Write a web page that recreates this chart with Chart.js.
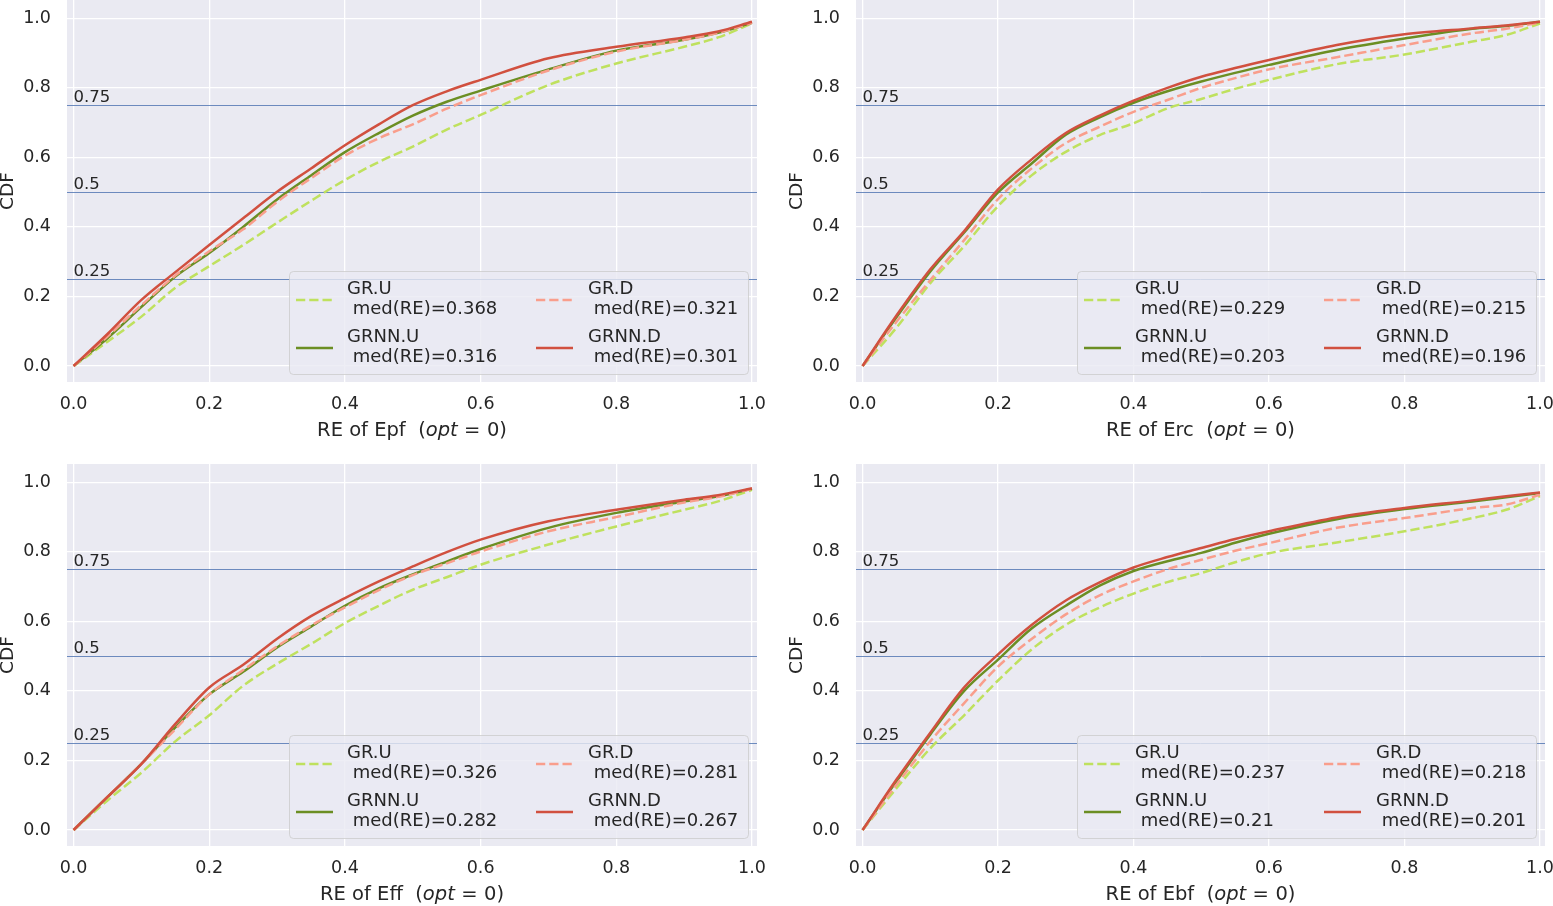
<!DOCTYPE html>
<html lang="en">
<head>
<meta charset="UTF-8">
<title>CDF of RE</title>
<script src="https://cdn.jsdelivr.net/npm/chart.js"></script>
<style>
  html, body { margin: 0; padding: 0; background: #fff; }
  body { width: 1553px; height: 906px; position: relative; overflow: hidden; }
  .panel { position: absolute; }
</style>
</head>
<body>
<div class="panel" style="left:0;top:0;width:776px;height:453px"><canvas id="epf"></canvas></div>
<div class="panel" style="left:776px;top:0;width:777px;height:453px"><canvas id="erc"></canvas></div>
<div class="panel" style="left:0;top:453px;width:776px;height:453px"><canvas id="eff"></canvas></div>
<div class="panel" style="left:776px;top:453px;width:777px;height:453px"><canvas id="ebf"></canvas></div>
<script>
const reValues = [0, 0.05, 0.1, 0.15, 0.2, 0.25, 0.3, 0.35, 0.4, 0.45, 0.5, 0.55, 0.6, 0.7, 0.8, 0.9, 0.95, 1.0];
const xTicks = [0, 0.2, 0.4, 0.6, 0.8, 1.0];
const yTicks = [0, 0.2, 0.4, 0.6, 0.8, 1.0];
const quantiles = [0.25, 0.5, 0.75];
// plot order: GR.U, GRNN.U, GR.D, GRNN.D
const seriesNames = ['GR.U', 'GRNN.U', 'GR.D', 'GRNN.D'];

// Epf
const epfGrU   = [0, 0.07, 0.142, 0.225, 0.287, 0.348, 0.412, 0.475, 0.535, 0.587, 0.631, 0.68, 0.722, 0.808, 0.87, 0.918, 0.945, 0.985];
const epfGrnnU = [0, 0.08, 0.17, 0.257, 0.325, 0.40, 0.479, 0.548, 0.615, 0.67, 0.72, 0.76, 0.792, 0.853, 0.907, 0.938, 0.958, 0.987];
const epfGrD   = [0, 0.085, 0.175, 0.26, 0.33, 0.393, 0.472, 0.54, 0.605, 0.655, 0.695, 0.74, 0.779, 0.85, 0.904, 0.938, 0.958, 0.987];
const epfGrnnD = [0, 0.092, 0.19, 0.27, 0.348, 0.425, 0.501, 0.568, 0.635, 0.695, 0.75, 0.79, 0.823, 0.885, 0.918, 0.945, 0.962, 0.99];
const epfMedians = [0.368, 0.316, 0.321, 0.301];

// Erc
const ercGrU   = [0, 0.11, 0.238, 0.345, 0.46, 0.549, 0.616, 0.664, 0.698, 0.741, 0.768, 0.797, 0.823, 0.868, 0.896, 0.933, 0.952, 0.985];
const ercGrnnU = [0, 0.14, 0.272, 0.384, 0.499, 0.583, 0.665, 0.715, 0.757, 0.79, 0.818, 0.843, 0.866, 0.909, 0.942, 0.97, 0.978, 0.99];
const ercGrD   = [0, 0.127, 0.247, 0.362, 0.48, 0.569, 0.641, 0.688, 0.731, 0.765, 0.8, 0.828, 0.853, 0.888, 0.923, 0.957, 0.97, 0.988];
const ercGrnnD = [0, 0.145, 0.278, 0.388, 0.508, 0.595, 0.67, 0.72, 0.763, 0.8, 0.832, 0.857, 0.88, 0.923, 0.954, 0.971, 0.979, 0.99];
const ercMedians = [0.229, 0.203, 0.215, 0.196];

// Eff
const effGrU   = [0, 0.085, 0.165, 0.255, 0.33, 0.415, 0.478, 0.535, 0.595, 0.645, 0.691, 0.727, 0.763, 0.821, 0.873, 0.921, 0.945, 0.978];
const effGrnnU = [0, 0.095, 0.19, 0.295, 0.39, 0.455, 0.525, 0.585, 0.645, 0.695, 0.735, 0.772, 0.808, 0.869, 0.912, 0.945, 0.96, 0.981];
const effGrD   = [0, 0.095, 0.19, 0.29, 0.39, 0.46, 0.528, 0.588, 0.64, 0.69, 0.733, 0.767, 0.801, 0.859, 0.9, 0.942, 0.958, 0.981];
const effGrnnD = [0, 0.095, 0.19, 0.305, 0.41, 0.475, 0.55, 0.615, 0.667, 0.715, 0.758, 0.799, 0.835, 0.888, 0.921, 0.95, 0.963, 0.983];
const effMedians = [0.326, 0.282, 0.281, 0.267];

// Ebf
const ebfGrU   = [0, 0.12, 0.235, 0.33, 0.43, 0.52, 0.59, 0.64, 0.68, 0.713, 0.739, 0.77, 0.796, 0.827, 0.859, 0.897, 0.921, 0.96];
const ebfGrnnU = [0, 0.14, 0.275, 0.40, 0.49, 0.58, 0.645, 0.703, 0.745, 0.773, 0.797, 0.826, 0.852, 0.894, 0.923, 0.945, 0.957, 0.969];
const ebfGrD   = [0, 0.13, 0.255, 0.365, 0.47, 0.55, 0.62, 0.675, 0.715, 0.75, 0.777, 0.803, 0.825, 0.869, 0.897, 0.926, 0.936, 0.964];
const ebfGrnnD = [0, 0.145, 0.28, 0.41, 0.505, 0.59, 0.66, 0.712, 0.755, 0.785, 0.811, 0.837, 0.859, 0.899, 0.926, 0.948, 0.96, 0.971];
const ebfMedians = [0.237, 0.21, 0.218, 0.201];

const lineColors = ['#BFE15E', '#6B8E23', '#F99E8C', '#D1503F'];
const lineDashes = [[9.25, 4], [], [9.25, 4], []];
const textColor = '#262626';
const FONT = '"DejaVu Sans", sans-serif';

// seaborn-ish background, quantile lines, legend and axis titles
const panelPlugin = {
  id: 'panel',
  beforeDraw(chart) {
    const {ctx, chartArea: a} = chart;
    ctx.save();
    ctx.fillStyle = '#EAEAF2';
    ctx.fillRect(a.left, a.top, a.right - a.left, a.bottom - a.top);
    ctx.restore();
  },
  beforeDatasetsDraw(chart) {
    const {ctx, chartArea: a, scales: {x, y}} = chart;
    ctx.save();
    ctx.strokeStyle = 'rgba(76,114,176,0.8)';
    ctx.lineWidth = 1;
    ctx.fillStyle = textColor;
    ctx.font = '16.5px ' + FONT;
    ctx.textBaseline = 'alphabetic';
    quantiles.forEach(q => {
      const py = Math.round(y.getPixelForValue(q)) + 0.5;
      ctx.beginPath();
      ctx.moveTo(a.left, py);
      ctx.lineTo(a.right, py);
      ctx.stroke();
      ctx.fillText(String(q), x.getPixelForValue(0), py - 3.5);
    });
    ctx.restore();
  },
  afterDatasetsDraw(chart, args, opts) {
    const {ctx, chartArea: a} = chart;
    const bx = a.right - 468, by = a.bottom - 111;
    ctx.save();
    ctx.beginPath();
    ctx.roundRect(bx + 0.5, by + 0.5, 459, 103, 4);
    ctx.fillStyle = 'rgba(234,234,242,0.8)';
    ctx.fill();
    ctx.strokeStyle = 'rgba(204,204,204,0.8)';
    ctx.lineWidth = 1;
    ctx.stroke();
    ctx.font = '18px ' + FONT;
    ctx.textBaseline = 'middle';
    seriesNames.forEach((name, i) => {
      const col = i < 2 ? 0 : 1, row = i % 2;
      const hx = bx + 7 + col * 240, hy = by + 29 + row * 48;
      ctx.strokeStyle = lineColors[i];
      ctx.lineWidth = 2.5;
      ctx.setLineDash(lineDashes[i]);
      ctx.beginPath();
      ctx.moveTo(hx, hy);
      ctx.lineTo(hx + 37, hy);
      ctx.stroke();
      ctx.setLineDash([]);
      ctx.fillStyle = textColor;
      const tx = bx + 58 + col * 241;
      ctx.fillText(name, tx, by + 18 + row * 48);
      ctx.fillText(' med(RE)=' + opts.medians[i], tx, by + 38 + row * 48);
    });
    ctx.restore();
  },
  afterDraw(chart, args, opts) {
    const {ctx, chartArea: a} = chart;
    ctx.save();
    ctx.fillStyle = textColor;
    ctx.textBaseline = 'middle';
    // x title with italic "opt" like the mathtext original
    const parts = [['RE of ' + opts.metric + '  (', ''], ['opt', 'italic '], ['\u2004=\u20040)', '']];
    const size = '19.5px ';
    let total = 0;
    parts.forEach(p => { ctx.font = p[1] + size + FONT; total += ctx.measureText(p[0]).width; });
    let cx = (a.left + a.right) / 2 - total / 2;
    const cy = a.bottom + 49;
    ctx.textAlign = 'left';
    parts.forEach(p => {
      ctx.font = p[1] + size + FONT;
      ctx.fillText(p[0], cx, cy);
      cx += ctx.measureText(p[0]).width;
    });
    // y title
    ctx.font = '18.5px ' + FONT;
    ctx.translate(a.left - 59, (a.top + a.bottom) / 2);
    ctx.rotate(-Math.PI / 2);
    ctx.textAlign = 'center';
    ctx.fillText('CDF', 0, 0);
    ctx.restore();
  }
};

function makePanel(id, metric, series, medians, geo) {
  const datasets = series.map((vals, i) => ({
    label: seriesNames[i],
    data: reValues.map((x, k) => ({x: x, y: vals[k]})),
    borderColor: lineColors[i],
    borderDash: lineDashes[i],
    borderWidth: 2.5,
    pointRadius: 0,
    fill: false,
    cubicInterpolationMode: 'monotone',
    order: 4 - i
  }));
  const tickFont = {family: FONT, size: 17.5};
  new Chart(document.getElementById(id), {
    type: 'line',
    data: {datasets},
    options: {
      responsive: true,
      maintainAspectRatio: false,
      animation: false,
      layout: {padding: {left: 0, top: geo.top, right: geo.right, bottom: 0}},
      plugins: {
        legend: {display: false},
        tooltip: {enabled: false},
        panel: {metric: metric, medians: medians}
      },
      scales: {
        x: {
          type: 'linear',
          min: -0.0097,
          max: 1.0074,
          afterBuildTicks: s => { s.ticks = xTicks.map(v => ({value: v})); },
          afterFit: s => { s.height = geo.xh; s.paddingLeft = 0; s.paddingRight = 0; },
          grid: {color: '#ffffff', lineWidth: 1.3, drawTicks: false},
          border: {display: false},
          ticks: {padding: 12, color: textColor, font: tickFont, maxRotation: 0, autoSkip: false,
                  callback: v => v.toFixed(1)}
        },
        y: {
          min: -0.046,
          max: 1.0526,
          afterBuildTicks: s => { s.ticks = yTicks.map(v => ({value: v})); },
          afterFit: s => { s.width = geo.yw; s.paddingTop = 0; s.paddingBottom = 0; },
          grid: {color: '#ffffff', lineWidth: 1.3, drawTicks: false},
          border: {display: false},
          ticks: {padding: 16, color: textColor, font: tickFont, callback: v => v.toFixed(1)}
        }
      }
    },
    plugins: [panelPlugin]
  });
}

makePanel('epf', 'Epf', [epfGrU, epfGrnnU, epfGrD, epfGrnnD], epfMedians, {top: 0, right: 19, xh: 71, yw: 67});
makePanel('erc', 'Erc', [ercGrU, ercGrnnU, ercGrD, ercGrnnD], ercMedians, {top: 0, right: 8, xh: 71, yw: 80});
makePanel('eff', 'Eff', [effGrU, effGrnnU, effGrD, effGrnnD], effMedians, {top: 11, right: 19, xh: 60, yw: 67});
makePanel('ebf', 'Ebf', [ebfGrU, ebfGrnnU, ebfGrD, ebfGrnnD], ebfMedians, {top: 11, right: 8, xh: 60, yw: 80});
</script>
</body>
</html>
